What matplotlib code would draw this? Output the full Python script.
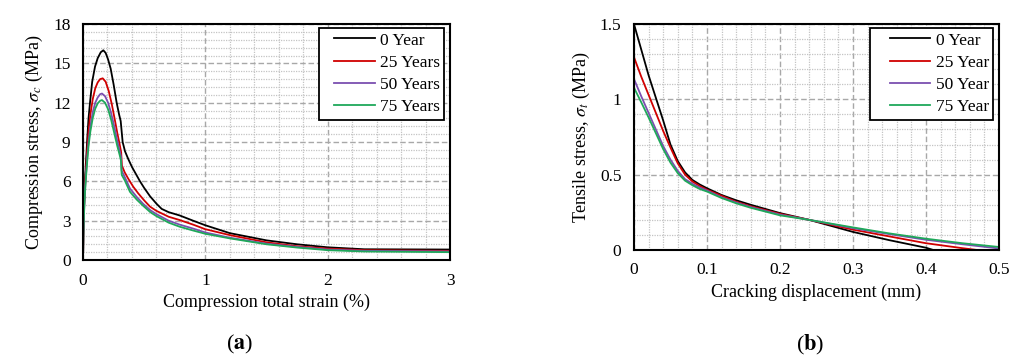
import numpy as np
import matplotlib
matplotlib.use('Agg')
import matplotlib.pyplot as plt
from matplotlib.ticker import MultipleLocator, FuncFormatter
from matplotlib.legend_handler import HandlerLine2D

plt.rcParams['font.family'] = ['Liberation Serif', 'DejaVu Serif']
plt.rcParams['mathtext.fontset'] = 'stix'

labels_a = ['0 Year', '25 Years', '50 Years', '75 Years']
labels_b = ['0 Year', '25 Year', '50 Year', '75 Year']
colors = ['#000000', '#d00000', '#7b4fb0', '#1fa85a']

# (a) compression stress - total strain (%)
x0 = [0, 0.003, 0.008, 0.015, 0.025, 0.035, 0.045, 0.057, 0.075, 0.098, 0.12, 0.145, 0.166,
      0.185, 0.205, 0.226, 0.25, 0.275, 0.295, 0.308, 0.318, 0.324, 0.343, 0.37, 0.4, 0.466,
      0.5, 0.548, 0.6, 0.643, 0.7, 0.79, 0.9, 1.0, 1.2, 1.5, 1.75, 2.0, 2.3, 3.0]
y0 = [0, 2, 4, 5.9, 7.6, 9.3, 10.8, 12.0, 13.6, 14.75, 15.4, 15.85, 16.0,
      15.8, 15.3, 14.6, 13.4, 12.0, 11.1, 10.6, 9.6, 9.0, 8.3, 7.7, 7.1, 6.0,
      5.5, 4.86, 4.3, 3.9, 3.65, 3.4, 3.0, 2.65, 2.05, 1.5, 1.2, 0.97, 0.82, 0.8]
x25 = [0, 0.003, 0.008, 0.015, 0.025, 0.035, 0.045, 0.06, 0.08, 0.1, 0.12, 0.14, 0.161,
       0.185, 0.21, 0.235, 0.26, 0.28, 0.3, 0.312, 0.318, 0.34, 0.37, 0.41, 0.45,
       0.5, 0.548, 0.6, 0.7, 0.79, 0.9, 1.0, 1.2, 1.5, 1.75, 2.0, 2.3, 3.0]
y25 = [0, 2, 3.8, 5.5, 7.0, 8.5, 9.8, 11.1, 12.3, 13.1, 13.55, 13.8, 13.86,
       13.6, 12.9, 11.9, 10.7, 9.7, 8.8, 8.2, 7.2, 6.7, 6.2, 5.6, 5.1,
       4.55, 4.07, 3.75, 3.3, 3.05, 2.7, 2.35, 1.9, 1.35, 1.05, 0.87, 0.75, 0.7]
x50 = [0, 0.003, 0.008, 0.015, 0.025, 0.035, 0.045, 0.06, 0.08, 0.1, 0.12, 0.14, 0.155,
       0.18, 0.205, 0.23, 0.255, 0.28, 0.3, 0.31, 0.316, 0.34, 0.384, 0.44, 0.49,
       0.55, 0.6, 0.7, 0.79, 0.9, 1.0, 1.2, 1.5, 1.75, 2.0, 2.3, 3.0]
y50 = [0, 2, 3.6, 5.2, 6.6, 7.9, 9.0, 10.2, 11.3, 12.0, 12.4, 12.65, 12.7,
       12.5, 12.0, 11.2, 10.2, 9.1, 8.3, 7.9, 6.8, 6.35, 5.45, 4.8, 4.3,
       3.8, 3.5, 3.0, 2.7, 2.4, 2.1, 1.7, 1.25, 1.0, 0.8, 0.7, 0.65]
x75 = [0, 0.003, 0.008, 0.015, 0.025, 0.035, 0.045, 0.06, 0.08, 0.1, 0.12, 0.14, 0.155,
       0.18, 0.205, 0.23, 0.255, 0.28, 0.3, 0.31, 0.316, 0.34, 0.384, 0.44, 0.49,
       0.55, 0.6, 0.7, 0.79, 0.9, 1.0, 1.2, 1.5, 1.75, 2.0, 2.3, 3.0]
y75 = [0, 2, 3.5, 5.0, 6.4, 7.6, 8.7, 9.8, 10.85, 11.55, 11.95, 12.15, 12.2,
       12.0, 11.5, 10.7, 9.7, 8.7, 8.0, 7.6, 6.5, 6.1, 5.2, 4.6, 4.15,
       3.65, 3.35, 2.85, 2.54, 2.25, 2.0, 1.65, 1.2, 0.95, 0.75, 0.65, 0.6]

# (b) tensile stress - cracking displacement (mm)
xb0 = [0, 0.01, 0.02, 0.03, 0.04, 0.05, 0.06, 0.07, 0.08, 0.09, 0.1, 0.12, 0.14, 0.16,
       0.2, 0.24, 0.3, 0.35, 0.4, 0.41]
yb0 = [1.5, 1.33, 1.16, 1.01, 0.86, 0.70, 0.59, 0.515, 0.465, 0.435, 0.41, 0.365, 0.33, 0.3,
       0.245, 0.2, 0.12, 0.065, 0.015, 0]
xb25 = [0, 0.01, 0.02, 0.03, 0.04, 0.05, 0.06, 0.07, 0.08, 0.09, 0.1, 0.12, 0.14, 0.16,
        0.2, 0.24, 0.3, 0.35, 0.4, 0.45, 0.47]
yb25 = [1.28, 1.15, 1.03, 0.91, 0.79, 0.68, 0.575, 0.5, 0.455, 0.425, 0.4, 0.36, 0.32, 0.29,
        0.24, 0.2, 0.135, 0.09, 0.045, 0.012, 0]
xb50 = [0, 0.01, 0.02, 0.03, 0.04, 0.05, 0.06, 0.07, 0.08, 0.09, 0.1, 0.12, 0.14, 0.16,
        0.2, 0.24, 0.3, 0.35, 0.4, 0.45, 0.5]
yb50 = [1.135, 1.02, 0.91, 0.8, 0.69, 0.6, 0.525, 0.47, 0.44, 0.415, 0.395, 0.35, 0.315, 0.285,
        0.235, 0.2, 0.145, 0.105, 0.068, 0.038, 0.01]
xb75 = [0, 0.01, 0.02, 0.03, 0.04, 0.05, 0.06, 0.07, 0.08, 0.09, 0.1, 0.12, 0.14, 0.16,
        0.2, 0.24, 0.3, 0.35, 0.4, 0.45, 0.5]
yb75 = [1.077, 0.98, 0.88, 0.775, 0.67, 0.58, 0.51, 0.46, 0.43, 0.405, 0.388, 0.345, 0.31, 0.28,
        0.23, 0.2, 0.15, 0.11, 0.075, 0.045, 0.02]


class PaddedLine(HandlerLine2D):
    # leaves empty room on the left of the legend line
    def __init__(self, left, **kw):
        super().__init__(**kw)
        self.left = left

    def create_artists(self, legend, orig_handle, xdescent, ydescent, width, height, fontsize, trans):
        pad = self.left * fontsize
        return super().create_artists(legend, orig_handle, xdescent - pad, ydescent,
                                      width - pad, height, fontsize, trans)


fig = plt.figure(figsize=(10.3, 3.63), dpi=100)
axa = fig.add_axes([0.0806, 0.2837, 0.3563, 0.650])
axb = fig.add_axes([0.6155, 0.3113, 0.3544, 0.6226])


def style(ax):
    ax.grid(which='major', color='#a8a8a8', linestyle=(0, (4, 2)), linewidth=1.0)
    ax.grid(which='minor', color='#c4c4c4', linestyle=(0, (1, 1)), linewidth=0.9)
    ax.set_axisbelow(True)
    for s in ax.spines.values():
        s.set_linewidth(1.5)
    ax.tick_params(which='both', length=0, labelsize=12.5, pad=9)


for (x, y), c, lab in zip([(x0, y0), (x25, y25), (x50, y50), (x75, y75)], colors, labels_a):
    axa.plot(x, y, color=c, linewidth=1.3, label=lab)
axa.set_xlim(0, 3)
axa.set_ylim(0, 18)
axa.xaxis.set_major_locator(MultipleLocator(1))
axa.xaxis.set_minor_locator(MultipleLocator(0.2))
axa.yaxis.set_major_locator(MultipleLocator(3))
axa.yaxis.set_minor_locator(MultipleLocator(0.6))
style(axa)
axa.set_xlabel('Compression total strain (%)', fontsize=13, labelpad=4)
axa.set_ylabel(r'Compression stress, $\sigma_c$ (MPa)', fontsize=13, labelpad=6)

for (x, y), c, lab in zip([(xb0, yb0), (xb25, yb25), (xb50, yb50), (xb75, yb75)], colors, labels_b):
    axb.plot(x, y, color=c, linewidth=1.3, label=lab)
axb.set_xlim(0, 0.5)
axb.set_ylim(0, 1.5)
axb.xaxis.set_major_locator(MultipleLocator(0.1))
axb.xaxis.set_minor_locator(MultipleLocator(0.02))
axb.yaxis.set_major_locator(MultipleLocator(0.5))
axb.yaxis.set_minor_locator(MultipleLocator(0.1))
axb.xaxis.set_major_formatter(FuncFormatter(lambda v, p: '%g' % round(v, 3)))
axb.yaxis.set_major_formatter(FuncFormatter(lambda v, p: '%g' % round(v, 3)))
style(axb)
axb.set_xlabel('Cracking displacement (mm)', fontsize=13, labelpad=4)
axb.set_ylabel(r'Tensile stress, $\sigma_t$ (MPa)', fontsize=13, labelpad=6)

for ax, anchor, left in ((axa, (0.984, 0.983), 0.58), (axb, (0.984, 0.982), 0.9)):
    handles, labs = ax.get_legend_handles_labels()
    leg = ax.legend(handles, labs, loc='upper right', fontsize=12.5, frameon=True, fancybox=False,
                    handlelength=2.35 + left, handletextpad=0.3, borderpad=0.25,
                    labelspacing=0.35, borderaxespad=0, bbox_to_anchor=anchor,
                    handler_map={h: PaddedLine(left) for h in handles})
    leg.get_frame().set_edgecolor('black')
    leg.get_frame().set_linewidth(1.3)
    leg.get_frame().set_alpha(1)

fig.text(0.2330, 0.05, r'($\mathbf{a}$)', ha='center', va='center', fontsize=16)
fig.text(0.7864, 0.05, r'($\mathbf{b}$)', ha='center', va='center', fontsize=16)

fig.savefig('out.png', dpi=100)
